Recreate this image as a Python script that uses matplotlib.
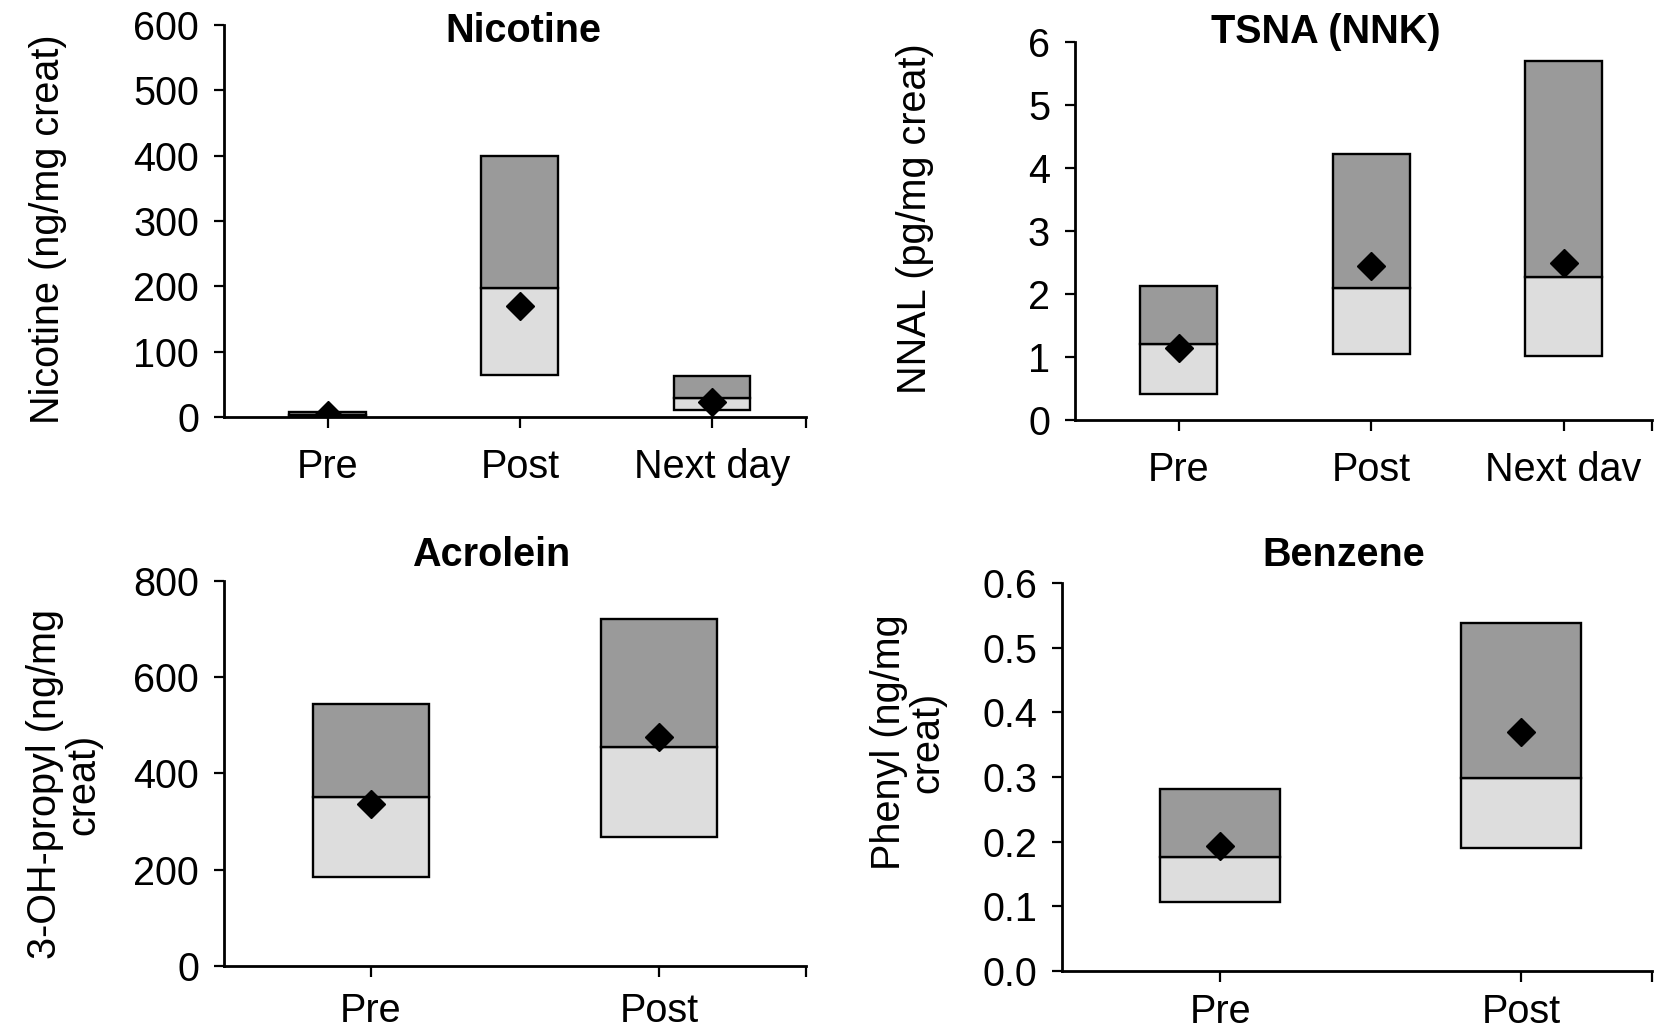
import matplotlib
matplotlib.use("Agg")
import matplotlib.pyplot as plt
import numpy as np

plt.rcParams['font.family'] = ['Liberation Sans', 'DejaVu Sans']

# ---------------- data ----------------
nic_cats = ["Pre", "Post", "Next day"]
nic_q1 = [1, 64, 11]
nic_med = [3, 197, 29]
nic_q3 = [8, 399, 63]
nic_mean = [3, 170, 23]

nnal_cats = ["Pre", "Post", "Next dav"]
nnal_q1 = [0.41, 1.04, 1.02]
nnal_med = [1.20, 2.10, 2.27]
nnal_q3 = [2.13, 4.22, 5.70]
nnal_mean = [1.15, 2.44, 2.49]

acr_cats = ["Pre", "Post"]
acr_q1 = [185, 269]
acr_med = [352, 456]
acr_q3 = [544, 720]
acr_mean = [336, 476]

ben_cats = ["Pre", "Post"]
ben_q1 = [0.106, 0.190]
ben_med = [0.177, 0.299]
ben_q3 = [0.282, 0.539]
ben_mean = [0.193, 0.369]

LIGHT = "#dddddd"
DARK = "#9a9a9a"
FS = 28.5

fig = plt.figure(figsize=(16.73, 10.36), dpi=100)

def panel(rect, cats, q1, med, q3, mean, yticks, xlim, fmt=None, xpad=14):
    ax = fig.add_axes(rect)
    x = np.arange(len(cats))
    q1 = np.array(q1); med = np.array(med); q3 = np.array(q3)
    ax.bar(x, med - q1, bottom=q1, width=0.4, color=LIGHT, edgecolor="black", linewidth=1.7, zorder=2)
    ax.bar(x, q3 - med, bottom=med, width=0.4, color=DARK, edgecolor="black", linewidth=1.7, zorder=2)
    ax.plot(x, mean, linestyle="none", marker="D", color="black", markersize=14, zorder=4)
    ax.set_xlim(*xlim)
    ax.set_ylim(yticks[0], yticks[-1])
    ax.set_yticks(yticks)
    if fmt:
        ax.set_yticklabels([fmt % v for v in yticks])
    ax.set_xticks(x)
    ax.set_xticklabels(cats)
    ax.set_xticks([xlim[1]], minor=True)
    for s in ("top", "right"):
        ax.spines[s].set_visible(False)
    for s in ("left", "bottom"):
        ax.spines[s].set_linewidth(2)
    ax.tick_params(axis="y", which="both", length=7, width=1.6, pad=11, labelsize=FS)
    ax.tick_params(axis="x", which="both", length=8, width=1.6, pad=xpad, labelsize=FS)
    ax.patch.set_alpha(0)
    return ax

panel([0.1339, 0.5975, 0.3479, 0.3784], nic_cats, nic_q1, nic_med, nic_q3, nic_mean,
      [0, 100, 200, 300, 400, 500, 600], (-0.54, 2.49))
panel([0.6426, 0.5946, 0.3449, 0.3649], nnal_cats, nnal_q1, nnal_med, nnal_q3, nnal_mean,
      [0, 1, 2, 3, 4, 5, 6], (-0.54, 2.46))
panel([0.1339, 0.0676, 0.3479, 0.3716], acr_cats, acr_q1, acr_med, acr_q3, acr_mean,
      [0, 200, 400, 600, 800], (-0.51, 1.51), xpad=11)
panel([0.6348, 0.0627, 0.3527, 0.3745], ben_cats, ben_q1, ben_med, ben_q3, ben_mean,
      [0.0, 0.1, 0.2, 0.3, 0.4, 0.5, 0.6], (-0.525, 1.435), fmt="%.1f", xpad=8)

W, H = 1673, 1036
def ftext(px, py, s, **kw):
    fig.text(px / W, 1 - py / H, s, **kw)

# titles
ftext(523, 31, "Nicotine", ha="center", va="center", fontsize=FS, fontweight="bold")
ftext(1326, 32, "TSNA (NNK)", ha="center", va="center", fontsize=FS, fontweight="bold")
ftext(491, 555, "Acrolein", ha="center", va="center", fontsize=FS, fontweight="bold")
ftext(1344, 555, "Benzene", ha="center", va="center", fontsize=FS, fontweight="bold")

# y labels
ftext(48, 229, "Nicotine (ng/mg creat)", ha="center", va="center", rotation=90, fontsize=FS)
ftext(915, 219, "NNAL (pg/mg creat)", ha="center", va="center", rotation=90, fontsize=FS)
ftext(64, 784, "3-OH-propyl (ng/mg\ncreat)", ha="center", va="center", rotation=90,
      fontsize=FS, multialignment="center", linespacing=1.0)
ftext(908, 742, "Phenyl (ng/mg\ncreat)", ha="center", va="center", rotation=90,
      fontsize=FS, multialignment="center", linespacing=1.0)

fig.savefig("out.png", dpi=100)
